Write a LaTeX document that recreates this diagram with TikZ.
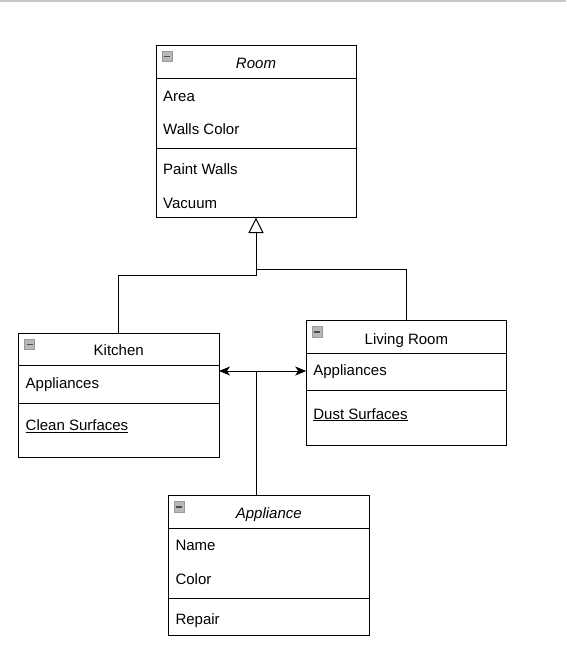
\documentclass[tikz,border=0pt]{standalone}
\usepackage{fontspec}
\setmainfont{Liberation Sans}
\usetikzlibrary{arrows.meta}
\begin{document}
\begin{tikzpicture}[x=1pt,y=-1pt,
  box/.style={draw, line width=1pt, minimum width=200pt, anchor=north west, inner sep=0pt, outer sep=0pt},
  sep/.style={line width=1pt},
  txt/.style={anchor=base west, inner sep=0pt, yshift=-1.3pt, font=\fontsize{15}{18}\selectfont},
  ttl/.style={anchor=base, inner sep=0pt, yshift=-1.3pt, font=\fontsize{15}{18}\selectfont},
  conn/.style={line width=1pt},
  icon/.style={fill=black!28, draw=black!40, line width=0.6pt}
]
\useasboundingbox (0,0) rectangle (566,651);
\draw[black!22, line width=1.5pt] (0,0.75) -- (566,0.75);

\newcommand{\minusicon}[2]{%
  \filldraw[icon] (#1,#2) rectangle +(10,10.5);
  \draw[black!70, line width=1.6pt] (#1+2,#2+5.5) -- (#1+8,#2+5.5);}

% Room
\node[box, minimum width=200pt, minimum height=172pt] (room) at (156,45.5) {};
\draw[sep] (156,78) -- (356,78);
\draw[sep] (156,148) -- (356,148);
\minusicon{162}{51}
\node[ttl] (roomt) at (256,67.3) {\itshape Room};
\node[txt] (r1) at (163,100) {Area};
\node[txt] (r2) at (163,133) {Walls Color};
\node[txt] (r3) at (163,173.3) {Paint Walls};
\node[txt] (r4) at (163,206.7) {Vacuum};

% Kitchen
\node[box, minimum width=200.5pt, minimum height=124.5pt] (kitchen) at (18.5,333.3) {};
\draw[sep] (18.5,365.7) -- (219,365.7);
\draw[sep] (18.5,403.3) -- (219,403.3);
\minusicon{24.5}{339}
\node[ttl] (kt) at (118.7,354.3) {Kitchen};
\node[txt] (k1) at (25.5,386.7) {Appliances};
\node[txt] (k2) at (25.5,429.3) {\underline{Clean Surfaces}};

% Living Room
\node[box, minimum width=200.5pt, minimum height=124.3pt] (living) at (306.2,320.7) {};
\draw[sep] (306.2,353.3) -- (506.7,353.3);
\draw[sep] (306.2,390.7) -- (506.7,390.7);
\minusicon{312.2}{326.5}
\node[ttl] (lt) at (406.4,342.7) {Living Room};
\node[txt] (l1) at (313.2,374) {Appliances};
\node[txt] (l2) at (313.2,417.7) {\underline{Dust Surfaces}};

% Appliance
\node[box, minimum width=201pt, minimum height=139.6pt] (appliance) at (168.3,495.7) {};
\draw[sep] (168.3,528.3) -- (369.3,528.3);
\draw[sep] (168.3,598.3) -- (369.3,598.3);
\minusicon{174.3}{501.5}
\node[ttl] (at) at (268.8,517.3) {\itshape Appliance};
\node[txt] (a1) at (175.3,549.3) {Name};
\node[txt] (a2) at (175.3,582.7) {Color};
\node[txt] (a3) at (175.3,623.3) {Repair};

% Generalization
\coordinate (gk) at (256,275.7);
\coordinate (gl) at (256,269.3);
\draw[conn, -{Triangle[open, length=15.5pt, width=15pt, fill=white]}]
  (kitchen.north) |- (gk) -- (gk |- room.south);
\draw[conn] (living.north) |- (gl);

% Association
\coordinate (j) at (256,371);
\draw[conn, {Stealth[length=11pt, width=9pt, inset=3pt]}-{Stealth[length=11pt, width=9pt, inset=3pt]}]
  (j -| kitchen.east) -- (j -| living.west);
\draw[conn] (j |- appliance.north) -- (j);
\end{tikzpicture}
\end{document}
